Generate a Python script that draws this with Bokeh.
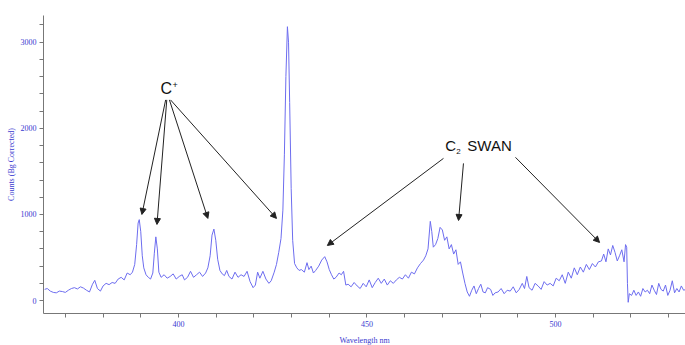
from bokeh.plotting import figure
from bokeh.models import ColumnDataSource, FixedTicker, Arrow, NormalHead, Label, Range1d
from bokeh.embed import file_html
from bokeh.resources import INLINE

# Spectrum (wavelength nm, counts)
wavelength = [
    364.5, 365.2, 366.0, 366.8, 367.6, 368.4, 369.2, 370.0, 370.8, 371.6, 372.4, 373.2, 374.0, 374.8,
    375.6, 376.4, 377.2, 377.8, 378.5, 379.3, 380.0, 380.8, 381.6, 382.4, 383.2, 384.0, 384.8, 385.6,
    386.4, 387.2, 387.8, 388.4, 388.9, 389.3, 389.6, 390.0, 390.4, 390.8, 391.4, 392.0, 392.6, 393.2,
    393.6, 394.0, 394.4, 394.8, 395.4, 396.2, 397.0, 397.8, 398.6, 399.4, 400.2, 401.0, 401.6, 402.4,
    403.2, 404.0, 404.8, 405.6, 406.4, 407.2, 407.8, 408.4, 408.9, 409.4, 409.9, 410.4, 411.0, 411.6,
    412.2, 412.8, 413.4, 414.2, 415.0, 415.8, 416.6, 417.4, 418.2, 419.0, 419.8, 420.4, 421.0, 421.6,
    422.4, 423.2, 424.0, 424.6, 425.4, 426.0, 426.6, 427.2, 427.7, 428.1, 428.5, 428.9, 429.2, 429.5,
    429.9, 430.3, 430.8, 431.4, 432.0, 432.6, 433.4, 434.1, 434.6, 435.2, 435.8, 436.4, 437.2, 438.0,
    438.8, 439.4, 440.0, 440.6, 441.2, 441.8, 442.6, 443.2, 443.8, 444.4, 445.0, 445.8, 446.6, 447.4,
    448.2, 449.0, 449.8, 450.6, 451.4, 452.2, 453.0, 453.8, 454.6, 455.4, 456.2, 457.0, 457.8, 458.6,
    459.4, 460.2, 461.0, 461.8, 462.6, 463.4, 464.2, 465.0, 465.6, 466.2, 466.8, 467.2, 467.6, 468.2,
    468.8, 469.4, 470.0, 470.6, 471.2, 471.8, 472.4, 473.0, 473.6, 474.2, 474.8, 475.4, 476.0, 476.6,
    477.2, 477.8, 478.4, 479.0, 479.6, 480.2, 480.8, 481.4, 482.0, 482.8, 483.4, 484.0, 484.8, 485.6,
    486.4, 487.2, 488.0, 488.8, 489.6, 490.4, 491.2, 491.8, 492.4, 493.0, 493.8, 494.6, 495.4, 496.2,
    497.0, 497.8, 498.6, 499.4, 500.2, 501.0, 501.8, 502.6, 503.4, 504.2, 505.0, 505.8, 506.6, 507.4,
    508.2, 509.0, 509.8, 510.6, 511.4, 512.2, 512.8, 513.4, 514.0, 514.6, 515.2, 515.8, 516.4, 517.0,
    517.6, 518.2, 518.6, 518.9, 519.1, 519.3, 519.6, 520.2, 520.8, 521.4, 522.0, 522.6, 523.2, 523.8,
    524.4, 525.0, 525.6, 526.2, 526.8, 527.4, 528.0, 528.6, 529.2, 529.8, 530.4, 531.0, 531.6, 532.2,
    532.8, 533.4, 534.0, 534.6,
]
counts = [
    130, 140, 110, 95, 90, 110, 105, 95, 120, 140, 150, 135, 160, 145,
    120, 100, 190, 235, 140, 110, 170, 200, 185, 210, 200, 250, 270, 240,
    320, 300, 330, 420, 650, 900, 940, 800, 520, 380, 300, 270, 250, 320,
    550, 740, 600, 330, 270, 300, 260, 280, 310, 250, 280, 300, 240, 270,
    340, 270, 300, 330, 280, 320, 380, 520, 760, 830, 700, 480, 350, 310,
    290, 350, 280, 250, 330, 270, 300, 280, 340, 220, 150, 180, 330, 260,
    340, 250, 200, 230, 330, 420, 560, 720, 1050, 1700, 2600, 3180, 3000, 2300,
    1300, 700, 430, 380, 350, 360, 330, 440, 360, 400, 320, 350, 400, 470,
    510, 450, 360, 300, 250, 270, 320, 300, 340, 180, 190, 160, 210, 170,
    140, 200, 160, 240, 150, 210, 260, 200, 250, 180, 230, 200, 240, 270,
    250, 300, 260, 330, 310, 380, 430, 470, 520, 600, 920, 800, 620, 650,
    720, 850, 820, 700, 740, 600, 650, 540, 590, 420, 450, 320, 200, 100,
    50, 120, 170, 80, 140, 190, 100, 90, 150, 130, 60, 90, 100, 140,
    80, 120, 110, 160, 90, 130, 200, 140, 280, 150, 120, 200, 170, 130,
    220, 180, 200, 170, 260, 230, 300, 200, 330, 260, 380, 300, 390, 330,
    420, 360, 430, 390, 450, 460, 540, 450, 600, 530, 640, 560, 460, 520,
    590, 450, 650, 620, 200, -20, 80, 60, 120, 60, 100, 50, 140, 100,
    120, 80, 180, 120, 70, 200, 130, 110, 180, 60, 120, 230, 90, 140,
    100, 170, 120, 130,
]

x_major_ticks = [400, 450, 500]
x_minor_ticks = [370, 380, 390, 410, 420, 430, 440, 460, 470, 480, 490, 510, 520, 530]
y_major_ticks = [0, 1000, 2000, 3000]
y_minor_ticks = [200, 400, 600, 800, 1200, 1400, 1600, 1800, 2200, 2400, 2600, 2800, 3200]
x_title = "Wavelength nm"
y_title = "Counts (Bg Corrected)"

# Annotations (data coordinates)
cplus_label = ("C", "+")
cplus_pos = (396.8, 2466)
cplus_arrow_x0 = [396.6, 396.9, 397.6, 397.9]
cplus_arrow_y0 = [2330, 2330, 2330, 2330]
cplus_arrow_x1 = [390.3, 394.3, 407.8, 426.0]
cplus_arrow_y1 = [1000, 884, 954, 954]

swan_label = ("C", "2", "SWAN")
swan_pos = (470.8, 1803)
swan_arrow_x0 = [470.3, 475.6, 489.4]
swan_arrow_y0 = [1651, 1593, 1663]
swan_arrow_x1 = [439.5, 474.3, 511.7]
swan_arrow_y1 = [640, 930, 675]

BLUE = "#3a3ad0"
LINE = "#6d6def"
SERIF = "Liberation Serif"
SANS = "Liberation Sans"

src = ColumnDataSource(dict(x=wavelength, y=counts))

p = figure(width=685, height=345, output_backend="svg", toolbar_location=None,
           x_range=Range1d(364.2, 534.5), y_range=Range1d(-150, 3310),
           min_border_left=43, min_border_right=0, min_border_top=15, min_border_bottom=32)
p.frame_width = 642
p.frame_height = 298
p.outline_line_color = None
p.xgrid.visible = False
p.ygrid.visible = False
p.background_fill_color = "white"

p.line("x", "y", source=src, line_color=LINE, line_width=1)

for ax in (p.xaxis[0], p.yaxis[0]):
    ax.axis_line_color = "#777777"
    ax.major_tick_line_color = "#777777"
    ax.minor_tick_line_color = "#777777"
    ax.major_tick_in = 0
    ax.major_tick_out = 4
    ax.minor_tick_in = 0
    ax.minor_tick_out = 4
    ax.major_label_text_font = SERIF
    ax.major_label_text_font_size = "8px"
    ax.major_label_text_color = BLUE
    ax.axis_label_text_font = SERIF
    ax.axis_label_text_font_size = "8px"
    ax.axis_label_text_font_style = "normal"
    ax.axis_label_text_color = BLUE

p.xaxis[0].ticker = FixedTicker(ticks=x_major_ticks, minor_ticks=x_minor_ticks)
p.yaxis[0].ticker = FixedTicker(ticks=y_major_ticks, minor_ticks=y_minor_ticks)
p.xaxis[0].axis_label = x_title
p.xaxis[0].axis_label_standoff = 6
p.xaxis[0].major_label_standoff = 3
p.yaxis[0].axis_label = y_title
p.yaxis[0].axis_label_standoff = 2
p.yaxis[0].major_label_standoff = 3

for x0, y0, x1, y1 in zip(cplus_arrow_x0, cplus_arrow_y0, cplus_arrow_x1, cplus_arrow_y1):
    p.add_layout(Arrow(x_start=x0, y_start=y0, x_end=x1, y_end=y1, line_color="#222222", line_width=1,
                       end=NormalHead(size=6, fill_color="#222222", line_color="#222222")))
for x0, y0, x1, y1 in zip(swan_arrow_x0, swan_arrow_y0, swan_arrow_x1, swan_arrow_y1):
    p.add_layout(Arrow(x_start=x0, y_start=y0, x_end=x1, y_end=y1, line_color="#222222", line_width=1,
                       end=NormalHead(size=6, fill_color="#222222", line_color="#222222")))

p.add_layout(Label(x=cplus_pos[0], y=cplus_pos[1], text=cplus_label[0], text_font=SANS,
                   text_font_size="16px", text_align="center", text_baseline="middle", text_color="#111111"))
p.add_layout(Label(x=cplus_pos[0], y=cplus_pos[1], x_offset=6, y_offset=3, text=cplus_label[1], text_font=SANS,
                   text_font_size="9px", text_align="left", text_baseline="middle", text_color="#111111"))

p.add_layout(Label(x=swan_pos[0], y=swan_pos[1], text=swan_label[0], text_font=SANS,
                   text_font_size="15px", text_align="left", text_baseline="middle", text_color="#111111"))
p.add_layout(Label(x=swan_pos[0], y=swan_pos[1], x_offset=11, y_offset=-6, text=swan_label[1], text_font=SANS,
                   text_font_size="8px", text_align="left", text_baseline="middle", text_color="#111111"))
p.add_layout(Label(x=swan_pos[0], y=swan_pos[1], x_offset=22, text=swan_label[2], text_font=SANS,
                   text_font_size="15px", text_align="left", text_baseline="middle", text_color="#111111"))

open("out.html", "w").write(file_html(p, INLINE))
